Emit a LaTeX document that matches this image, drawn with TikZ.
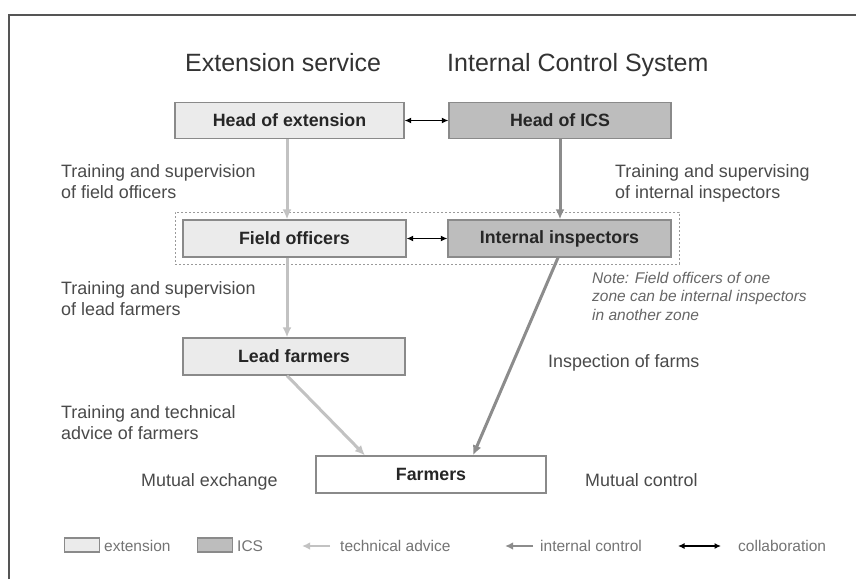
\documentclass[tikz,border=0pt]{standalone}
\usepackage{fontspec}
\setmainfont{Liberation Sans}
\usetikzlibrary{arrows.meta}
\definecolor{extfill}{HTML}{EBEBEB}
\definecolor{icsfill}{HTML}{BDBDBD}
\definecolor{boxline}{HTML}{8A8A8A}
\definecolor{techc}{HTML}{C2C2C2}
\definecolor{ctrlc}{HTML}{8C8C8C}
\definecolor{txt}{HTML}{4A4A4A}
\definecolor{boxtxt}{HTML}{262626}
\definecolor{legtxt}{HTML}{747474}
\definecolor{framec}{HTML}{555555}
\definecolor{zonec}{HTML}{9A9A9A}
\begin{document}
\begin{tikzpicture}[x=1pt,y=-1pt,
  box/.style={draw=boxline,line width=1.3pt,inner sep=0pt,minimum height=37pt,text=boxtxt,font=\fontsize{17.8}{21}\selectfont\bfseries},
  extbox/.style={box,fill=extfill},
  icsbox/.style={box,fill=icsfill},
  farmbox/.style={box,fill=white},
  lbl/.style={text=txt,inner sep=0pt,align=left,font=\fontsize{17.9}{21}\selectfont},
  ttl/.style={text=black!80,inner sep=0pt,font=\fontsize{25}{30}\selectfont},
  notetxt/.style={text=black!60,inner sep=0pt,align=left,font=\fontsize{15.5}{18.5}\selectfont\itshape},
  legtext/.style={text=legtxt,inner sep=0pt,font=\fontsize{15.5}{18}\selectfont},
  legbox/.style={draw=boxline,line width=1.2pt,minimum width=35pt,minimum height=14pt,inner sep=0pt},
  tech/.style={draw=techc,line width=3pt,-{Latex[length=10pt,width=9pt]}},
  ctrl/.style={draw=ctrlc,line width=3pt,-{Latex[length=10pt,width=9pt]}},
  collab/.style={draw=black,line width=1.7pt,{Latex[length=6.5pt,width=6pt]}-{Latex[length=6.5pt,width=6pt]}},
  zone/.style={draw=zonec,line width=1pt,dash pattern=on 2pt off 2pt,minimum width=504pt,minimum height=52pt,inner sep=0pt}
]
\useasboundingbox (0,0) rectangle (856,579);
\fill[white] (0,0) rectangle (856,579);
% frame
\draw[framec,line width=2pt] (9,579) -- (9,15) -- (856,15);

% titles
\node[ttl,anchor=base west] (t1) at (185,71) {Extension service};
\node[ttl,anchor=base west] (t2) at (447,71) {Internal Control System};

% zone
\node[zone] (zn) at (427,238) {};

% boxes
\node[extbox,minimum width=229pt,minimum height=36pt] (hext) at (289.5,120.5) {Head of extension};
\node[icsbox,minimum width=222pt,minimum height=36pt] (hics) at (560,120.5) {Head of ICS};
\node[extbox,minimum width=223pt] (fo) at (294.5,238.5) {Field officers};
\node[icsbox,minimum width=223pt] (ii) at (559.5,238.5) {Internal inspectors};
\node[extbox,minimum width=222pt] (lf) at (294,356.5) {Lead farmers};
\node[farmbox,minimum width=230pt] (fa) at (431,474.5) {Farmers};

% x positions of connectors
\coordinate (xe) at (287,0);
\coordinate (xi) at (560,0);
\coordinate (xi2) at (558,0);
\coordinate (xf1) at (365,0);
\coordinate (xf2) at (473,0);

\draw[tech] (hext.south -| xe) -- (fo.north -| xe);
\draw[ctrl] (hics.south -| xi) -- (ii.north -| xi);
\draw[tech] (fo.south -| xe) -- (lf.north -| xe);
\draw[tech] (lf.south -| xe) -- (fa.north -| xf1);
\draw[ctrl] (ii.south -| xi2) -- (fa.north -| xf2);
\draw[collab] (hext.east) -- (hics.west);
\draw[collab] (fo.east) -- (ii.west);

% labels
\node[lbl,anchor=north west] (l1) at (61,164) {Training and supervision\\of field officers};
\node[lbl,anchor=north west] (l2) at (615,164) {Training and supervising\\of internal inspectors};
\node[lbl,anchor=north west] (l3) at (61,281) {Training and supervision\\of lead farmers};
\node[notetxt,anchor=north west] (nt) at (592,272) {Note: Field officers of one\\zone can be internal inspectors\\in another zone};
\node[lbl,anchor=base west] (l4) at (548,367) {Inspection of farms};
\node[lbl,anchor=north west] (l5) at (61,405) {Training and technical\\advice of farmers};
\node[lbl,anchor=base west] (l6) at (141,486) {Mutual exchange};
\node[lbl,anchor=base west] (l7) at (585,486) {Mutual control};

% legend
\node[legbox,fill=extfill] (lb1) at (82,545) {};
\node[legtext,anchor=base west] (lt1) at (104,551) {extension};
\node[legbox,fill=icsfill] (lb2) at (215,545) {};
\node[legtext,anchor=base west] (lt2) at (237,551) {ICS};
\coordinate (la1) at (330,546);
\coordinate (la2) at (302,546);
\draw[draw=techc,line width=2.6pt,-{Latex[length=8pt,width=7.5pt]}] (la1) -- (la2);
\node[legtext,anchor=base west] (lt3) at (340,551) {technical advice};
\coordinate (lc1) at (533,546);
\coordinate (lc2) at (505,546);
\draw[draw=ctrlc,line width=2.6pt,-{Latex[length=8pt,width=7.5pt]}] (lc1) -- (lc2);
\node[legtext,anchor=base west] (lt4) at (540,551) {internal control};
\coordinate (ld1) at (678,546);
\coordinate (ld2) at (721,546);
\draw[collab] (ld1) -- (ld2);
\node[legtext,anchor=base west] (lt5) at (738,551) {collaboration};
\end{tikzpicture}
\end{document}
